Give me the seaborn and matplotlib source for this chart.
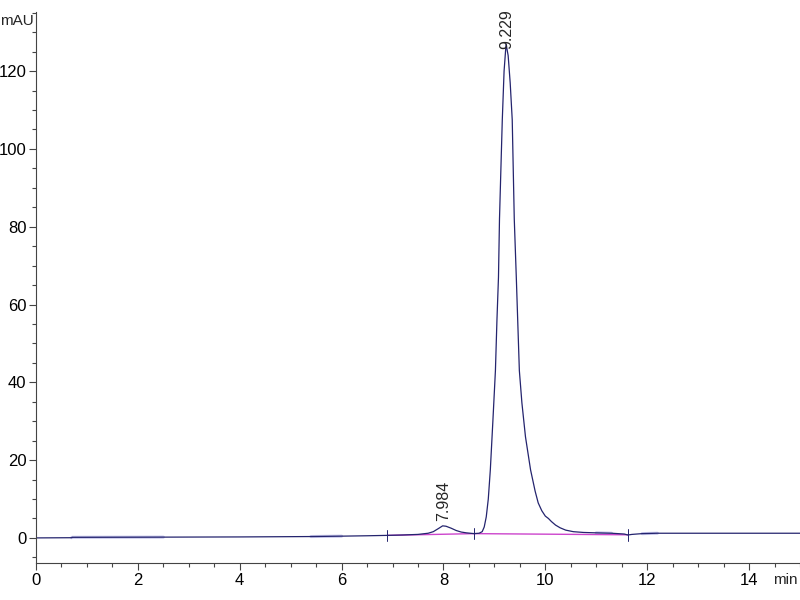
import matplotlib
matplotlib.use("Agg")
import matplotlib.pyplot as plt
import matplotlib.ticker as mticker
import pandas as pd
import seaborn as sns

sns.set_style("ticks")
plt.rcParams["font.family"] = ["Liberation Sans", "DejaVu Sans"]

# chromatogram trace (time in min, signal in mAU)
time_min = [0.0, 0.7, 0.71, 2.5, 4.0, 5.4, 6.0, 6.5, 6.9, 7.2, 7.5, 7.7, 7.8, 7.9,
            7.984, 8.05, 8.15, 8.25, 8.35, 8.45, 8.6, 8.7, 8.76, 8.80, 8.84, 8.88,
            8.92, 8.97, 9.02, 9.05, 9.08, 9.10, 9.13, 9.155, 9.19, 9.229, 9.27, 9.31,
            9.35, 9.39, 9.43, 9.49, 9.54, 9.61, 9.71, 9.80, 9.86, 9.93, 10.0, 10.06,
            10.12, 10.2, 10.29, 10.4, 10.55, 10.75, 11.0, 11.3, 11.55, 11.62, 11.7,
            11.9, 12.2, 13.0, 14.0, 15.0]
signal_mau = [0.0, 0.05, 0.15, 0.2, 0.25, 0.35, 0.45, 0.55, 0.65, 0.75, 0.9, 1.2, 1.6, 2.4,
              3.1, 3.0, 2.5, 1.9, 1.5, 1.3, 1.1, 1.2, 1.6, 2.8, 5.4, 10.0,
              17.5, 30.0, 43.0, 56.0, 67.0, 82.0, 96.0, 107.5, 120.0, 127.0, 124.0, 117.0,
              107.5, 82.0, 67.0, 43.0, 34.7, 26.0, 17.5, 12.0, 9.0, 7.0, 5.6, 5.0,
              4.2, 3.3, 2.6, 2.0, 1.6, 1.4, 1.3, 1.2, 1.0, 0.75, 0.9,
              1.1, 1.2, 1.2, 1.2, 1.2]

# integration baseline (magenta) and peak boundaries
base_time = [6.9, 8.6, 11.62]
base_mau = [0.65, 1.1, 0.8]

# light shaded stretches of the trace
shade_spans = [(0.7, 2.5), (5.4, 6.2), (11.0, 11.4), (11.85, 12.2)]

peak_rt = [7.984, 9.229]
peak_height = [3.1, 127.0]
label_gap = [1.2, -1.2]

df = pd.DataFrame({"t": time_min, "mAU": signal_mau})
bdf = pd.DataFrame({"t": base_time, "mAU": base_mau})

fig, ax = plt.subplots(figsize=(8, 6), dpi=100)
fig.subplots_adjust(left=0.045, right=1.0, bottom=0.062, top=0.98)

for a, b in shade_spans:
    part = df[(df["t"] >= a) & (df["t"] <= b)]
    sns.lineplot(data=part, x="t", y="mAU", ax=ax, color="#b4b4e4", lw=2.2, alpha=0.8)
sns.lineplot(data=bdf, x="t", y="mAU", ax=ax, color="#cc44cc", lw=1.0)
sns.lineplot(data=df, x="t", y="mAU", ax=ax, color="#24246e", lw=0.9)
for t, v in zip(base_time, base_mau):
    ax.plot([t, t], [v - 1.5, v + 1.5], color="#24246e", lw=0.7)

for rt, h, g in zip(peak_rt, peak_height, label_gap):
    ax.text(rt + 0.02, h + g, f"{rt:.3f}", rotation=90, ha="center", va="bottom",
            fontsize=11.5, clip_on=False)

ax.set_xlim(0, 15)
ax.set_ylim(-6.4, 135.2)
ax.set_xticks(range(0, 15, 2))
ax.set_yticks(range(0, 121, 20))
ax.xaxis.set_minor_locator(mticker.MultipleLocator(0.5))
ax.yaxis.set_minor_locator(mticker.MultipleLocator(5))
ax.tick_params(which="major", length=5, width=0.8, colors="#444444", labelsize=12,
               labelcolor="black", pad=2)
ax.tick_params(which="minor", length=3, width=0.8, colors="#444444")
for s in ["top", "right"]:
    ax.spines[s].set_visible(False)
for s in ["left", "bottom"]:
    ax.spines[s].set_color("#444444")
    ax.spines[s].set_linewidth(0.8)

ax.set_xlabel("")
ax.set_ylabel("")
fig.text(0.0, 0.965, "mAU", fontsize=11, ha="left", va="center")
fig.text(0.997, 0.033, "min", fontsize=11, ha="right", va="center")

fig.savefig("out.png", dpi=100)
